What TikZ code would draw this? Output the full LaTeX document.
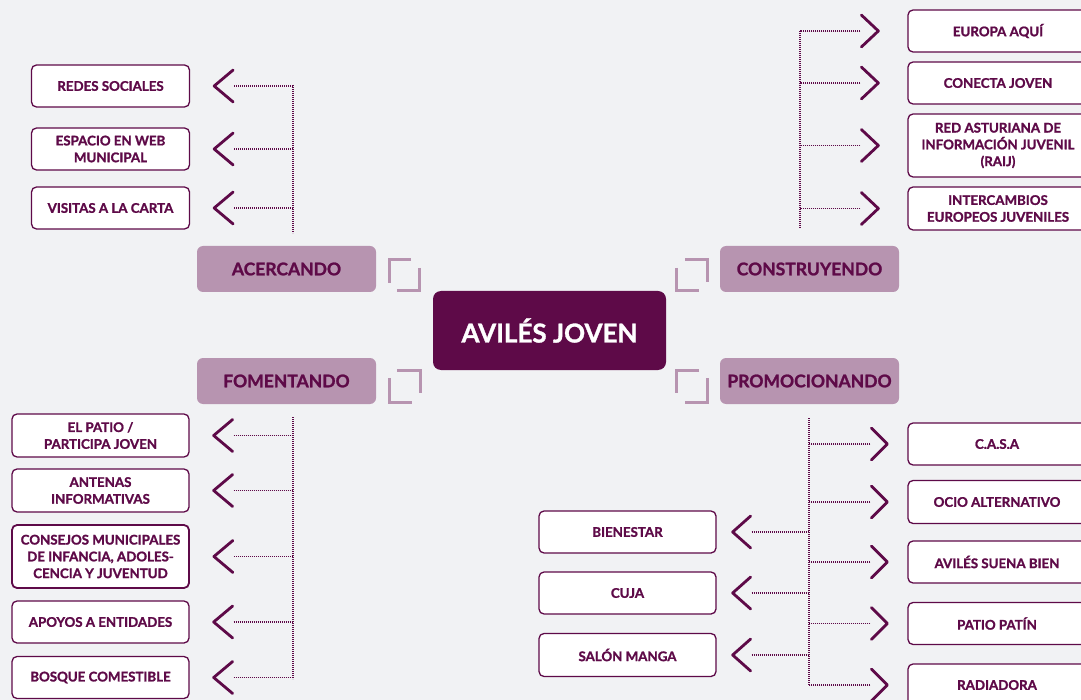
\documentclass[tikz,border=0pt]{standalone}
\usepackage{fontspec}
\setmainfont{Lato}[BoldFeatures={FakeBold=1.3}]
\definecolor{dp}{HTML}{5E0A48}
\definecolor{cat}{HTML}{B794B0}
\definecolor{bg}{HTML}{F1F2F4}
\begin{document}
\begin{tikzpicture}[x=1pt,y=-1pt,
 leaf/.style 2 args={draw=dp, line width=1.3pt, fill=white, rounded corners=5pt,
   font=\bfseries\fontsize{13.3}{16.8}\selectfont, text=dp, align=center, inner sep=0pt,
   minimum width=#1, minimum height=#2},
 catbox/.style={fill=cat, rounded corners=6pt, minimum width=179pt, minimum height=46pt,
   font=\bfseries\fontsize{17.5}{20}\selectfont, text=dp, inner sep=0pt},
 mainbox/.style={fill=dp, rounded corners=8pt, minimum width=233pt, minimum height=79pt,
   font=\bfseries\fontsize{26}{30}\selectfont, text=white, inner sep=0pt},
 chev/.style={draw=dp, line width=2.8pt, line cap=round, line join=round},
 dots/.style={draw=dp, line width=1.8pt, dash pattern=on 1.2pt off 0.8pt},
 brk/.style={draw=cat, line width=3pt, line cap=butt, line join=miter}
]
\useasboundingbox (0,0) rectangle (1081,700);
\fill[bg] (0,0) rectangle (1081,700);
\clip (0,0) rectangle (1081,700);

% centre and categories
\node[mainbox] (main) at (549.5,330.5) {AVILÉS JOVEN};
\node[catbox] (acer) at (286.5,269) {ACERCANDO};
\node[catbox] (fome) at (286.5,381) {FOMENTANDO};
\node[catbox] (cons) at (809.5,269) {CONSTRUYENDO};
\node[catbox] (prom) at (809.5,381) {PROMOCIONANDO};

% brackets
\draw[brk] (411,260) -- (389,260) -- (389,283);
\draw[brk] (419,268) -- (419,291) -- (397,291);
\draw[brk] (397,370) -- (420,370) -- (420,393);
\draw[brk] (389,378) -- (389,402) -- (412,402);
\draw[brk] (685,260) -- (707,260) -- (707,282);
\draw[brk] (676,268) -- (676,291) -- (699,291);
\draw[brk] (699,370) -- (676,370) -- (676,393);
\draw[brk] (707,378) -- (707,402) -- (685,402);

% ---------- ACERCANDO leaves
\node[leaf={158pt}{42pt}] (redes) at (110.5,86) {REDES SOCIALES};
\node[leaf={158pt}{42pt}] (espa) at (110.5,149) {ESPACIO EN WEB\\MUNICIPAL};
\node[leaf={158pt}{42pt}] (visi) at (110.5,208) {VISITAS A LA CARTA};
\coordinate (tla) at (293,85);
\coordinate (tlb) at (293,233);
\draw[dots] (tla) -- (tlb);
\foreach \n in {redes,espa,visi}{
  \draw[chev] ([xshift=43pt,yshift=16pt]\n.east) -- ([xshift=24pt]\n.east) -- ([xshift=43pt,yshift=-16pt]\n.east);
  \draw[dots] ([xshift=44pt]\n.east) -- (\n.east -| tla);
}

% ---------- CONSTRUYENDO leaves
\node[leaf={180pt}{42pt}] (euro) at (998,31) {EUROPA AQUÍ};
\node[leaf={180pt}{42pt}] (conec) at (998,83) {CONECTA JOVEN};
\node[leaf={180pt}{63pt}] (raij) at (998,145.5) {RED ASTURIANA DE\\INFORMACIÓN JUVENIL\\(RAIJ)};
\node[leaf={180pt}{43pt}] (inter) at (998,208.5) {INTERCAMBIOS\\EUROPEOS JUVENILES};
\coordinate (tra) at (800,31);
\coordinate (trb) at (800,228);
\draw[dots] (tra) -- (trb);
\foreach \n in {euro,conec,raij,inter}{
  \draw[chev] ([xshift=-46pt,yshift=16pt]\n.west) -- ([xshift=-29pt]\n.west) -- ([xshift=-46pt,yshift=-16pt]\n.west);
  \draw[dots] ([xshift=-47pt]\n.west) -- (\n.west -| tra);
}

% ---------- FOMENTANDO leaves
\node[leaf={177pt}{43pt}] (patio) at (100.5,435.5) {EL PATIO /\\PARTICIPA JOVEN};
\node[leaf={177pt}{43pt}] (ante) at (100.5,490.5) {ANTENAS\\INFORMATIVAS};
\node[leaf={177pt}{63pt}, line width=1.8pt] (conse) at (100.5,556.5) {CONSEJOS MUNICIPALES\\DE INFANCIA, ADOLES-\\CENCIA Y JUVENTUD};
\node[leaf={177pt}{42pt}] (apoy) at (100.5,622) {APOYOS A ENTIDADES};
\node[leaf={177pt}{42pt}] (bosq) at (100.5,677.5) {BOSQUE COMESTIBLE};
\coordinate (bla) at (293,417);
\coordinate (blb) at (293,679);
\draw[dots] (bla) -- (blb);
\foreach \n in {patio,ante,conse,apoy,bosq}{
  \draw[chev] ([xshift=43pt,yshift=16pt]\n.east) -- ([xshift=24pt]\n.east) -- ([xshift=43pt,yshift=-16pt]\n.east);
  \draw[dots] ([xshift=44pt]\n.east) -- (\n.east -| bla);
}

% ---------- PROMOCIONANDO leaves
\node[leaf={178pt}{42pt}] (casa) at (997,444) {C.A.S.A};
\node[leaf={178pt}{43pt}] (ocio) at (997,502) {OCIO ALTERNATIVO};
\node[leaf={178pt}{42pt}] (suena) at (997,562) {AVILÉS SUENA BIEN};
\node[leaf={178pt}{42pt}] (patin) at (997,623.5) {PATIO PATÍN};
\node[leaf={178pt}{42pt}] (radia) at (997,685) {RADIADORA};
\node[leaf={177pt}{42pt}] (bien) at (627.5,532) {BIENESTAR};
\node[leaf={177pt}{42pt}] (cuja) at (627.5,593) {CUJA};
\node[leaf={177pt}{43pt}] (salon) at (627.5,655) {SALÓN MANGA};
\coordinate (bra) at (809,418);
\coordinate (brb) at (809,685);
\draw[dots] (bra) -- (brb);
\foreach \n in {casa,ocio,suena,patin,radia}{
  \draw[chev] ([xshift=-36pt,yshift=16pt]\n.west) -- ([xshift=-20pt]\n.west) -- ([xshift=-36pt,yshift=-16pt]\n.west);
  \draw[dots] ([xshift=-37pt]\n.west) -- (\n.west -| bra);
}
\foreach \n in {bien,cuja,salon}{
  \draw[chev] ([xshift=34pt,yshift=16pt]\n.east) -- ([xshift=16pt]\n.east) -- ([xshift=34pt,yshift=-16pt]\n.east);
  \draw[dots] ([xshift=35pt]\n.east) -- (\n.east -| bra);
}
\end{tikzpicture}
\end{document}
